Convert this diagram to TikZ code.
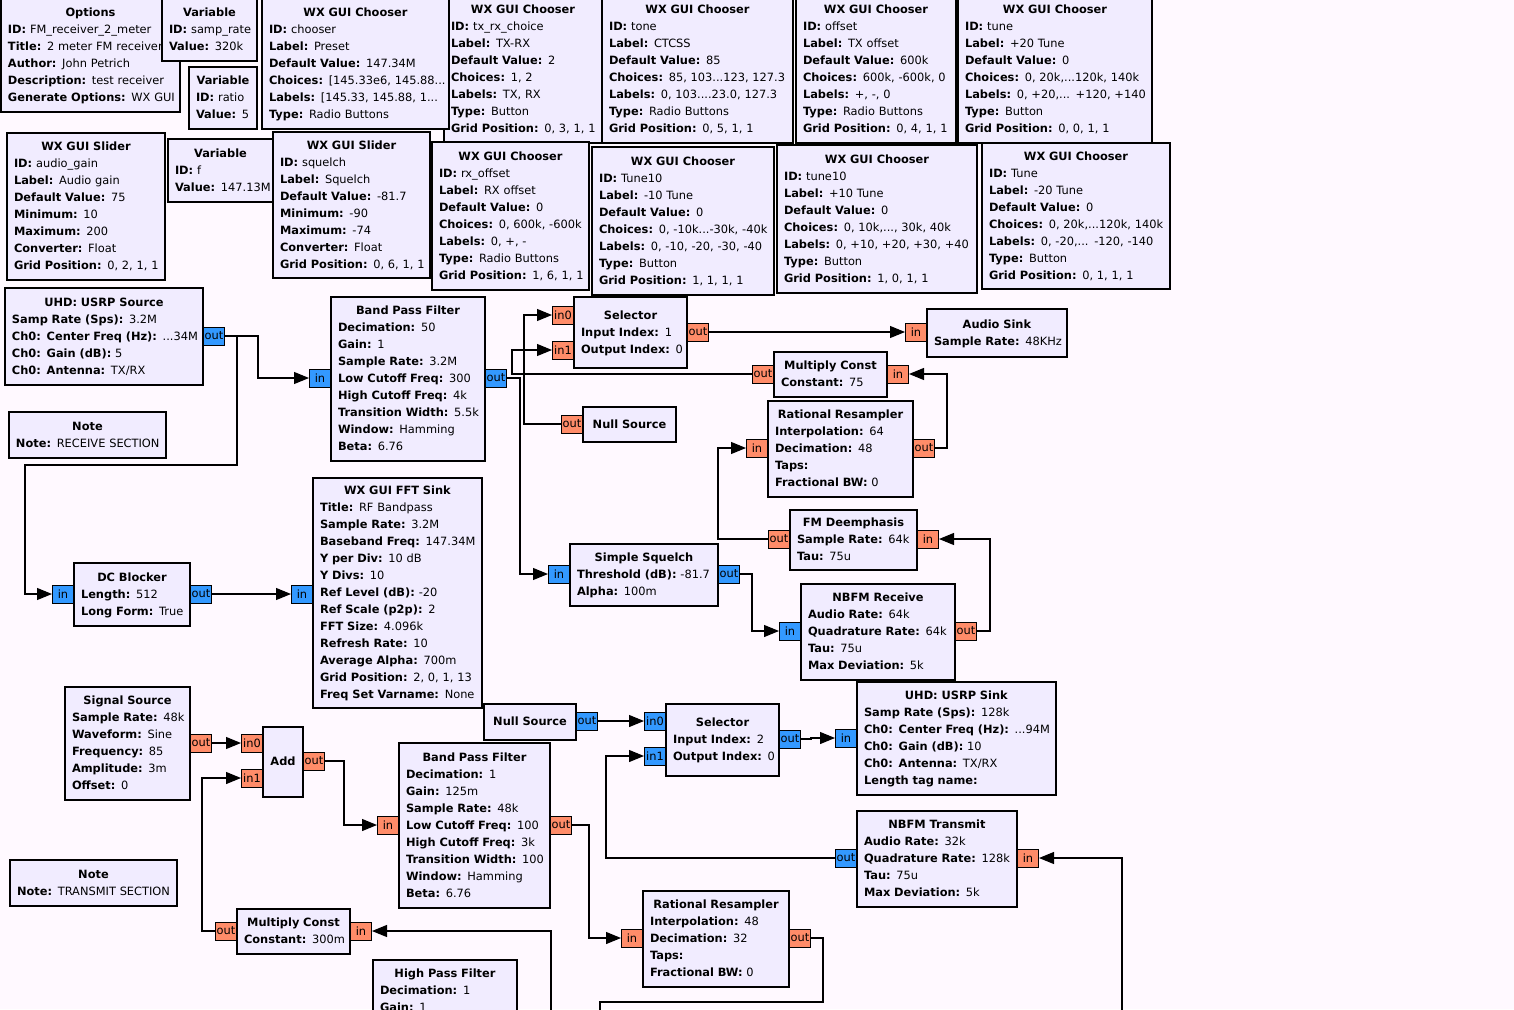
\documentclass[tikz,border=0pt]{standalone}
\usepackage{fontspec}
\setmainfont{DejaVu Sans}
\usetikzlibrary{arrows.meta}

\definecolor{canvas}{HTML}{FFF9FF}
\definecolor{blockfill}{HTML}{F1ECFF}
\definecolor{cplx}{HTML}{3399FF}
\definecolor{flt}{HTML}{FF8C69}

% one text row of a block: fixed 17pt pitch
\newcommand\ls{\rule[-4.9pt]{0pt}{17pt}}
% centred bold block title
\newcommand\ttl[1]{\makebox[\linewidth][c]{\ls\textbf{#1}}}
% "Key: value" parameter row
\newcommand\pl[2]{\\\ls\mbox{\textbf{#1:} #2}}
% block: name, x1, y1, x2, y2, contents
\newcommand\gblock[6]{%
  \pgfmathsetmacro\gbw{#4-(#2)}%
  \pgfmathsetmacro\gbh{#5-(#3)}%
  \pgfmathsetmacro\gbt{#4-(#2)-14}%
  \node[blk, minimum width=\gbw pt, minimum height=\gbh pt, text width=\gbt pt]
    (#1) at ({(#2+#4)/2},{(#3+#5)/2}) {#6};%
}
% port: name, x, y, anchor, colour, label
\newcommand\gport[6]{\node[port, fill=#5, anchor=#4] (#1) at (#2,#3) {#6};}

\begin{document}
\begin{tikzpicture}[x=1pt, y=-1pt,
  blk/.style={draw=black, line width=1.3pt, fill=blockfill, inner xsep=7pt, inner ysep=0pt,
    font=\fontsize{11.4}{17}\selectfont},
  port/.style={draw=black, line width=1pt, minimum width=21pt, minimum height=18pt,
    inner sep=1pt, font=\fontsize{11.4}{13}\selectfont},
  wire/.style={draw=black, line width=1.1pt},
  arr/.style={wire, -{Triangle[length=15pt,width=12pt]}}]

\useasboundingbox (0,0) rectangle (1514,1009);
\fill[canvas] (0,0) rectangle (1514,1009);
\clip (0,0) rectangle (1514,1009);

% ---------------- variables and GUI widgets ----------------
\gblock{opts}{1}{-2}{180}{112}{\ttl{Options}\pl{ID}{FM\_receiver\_2\_meter}\pl{Title}{2 meter FM receiver}\pl{Author}{John Petrich}\pl{Description}{test receiver}\pl{Generate Options}{WX GUI}}
\gblock{vsr}{162}{-2}{257}{61}{\ttl{Variable}\pl{ID}{samp\_rate}\pl{Value}{320k}}
\gblock{vratio}{189}{67}{257}{129}{\ttl{Variable}\pl{ID}{ratio}\pl{Value}{5}}
\gblock{ctxrx}{444}{-4}{602}{143}{\ttl{WX GUI Chooser}\pl{ID}{tx\_rx\_choice}\pl{Label}{TX-RX}\pl{Default Value}{2}\pl{Choices}{1, 2}\pl{Labels}{TX, RX}\pl{Type}{Button}\pl{Grid Position}{0, 3, 1, 1}}
\gblock{cpreset}{262}{-2}{449}{129}{\ttl{WX GUI Chooser}\pl{ID}{chooser}\pl{Label}{Preset}\pl{Default Value}{147.34M}\pl{Choices}{[145.33e6, 145.88...}\pl{Labels}{[145.33, 145.88, 1...}\pl{Type}{Radio Buttons}}
\gblock{ctone}{602}{-4}{793}{143}{\ttl{WX GUI Chooser}\pl{ID}{tone}\pl{Label}{CTCSS}\pl{Default Value}{85}\pl{Choices}{85, 103...123, 127.3}\pl{Labels}{0, 103....23.0, 127.3}\pl{Type}{Radio Buttons}\pl{Grid Position}{0, 5, 1, 1}}
\gblock{coffset}{796}{-4}{956}{143}{\ttl{WX GUI Chooser}\pl{ID}{offset}\pl{Label}{TX offset}\pl{Default Value}{600k}\pl{Choices}{600k, -600k, 0}\pl{Labels}{+, -, 0}\pl{Type}{Radio Buttons}\pl{Grid Position}{0, 4, 1, 1}}
\gblock{ctune}{958}{-4}{1152}{143}{\ttl{WX GUI Chooser}\pl{ID}{tune}\pl{Label}{+20 Tune}\pl{Default Value}{0}\pl{Choices}{0, 20k,...120k, 140k}\pl{Labels}{0, +20,... +120, +140}\pl{Type}{Button}\pl{Grid Position}{0, 0, 1, 1}}

\gblock{sgain}{7}{133}{165}{280}{\ttl{WX GUI Slider}\pl{ID}{audio\_gain}\pl{Label}{Audio gain}\pl{Default Value}{75}\pl{Minimum}{10}\pl{Maximum}{200}\pl{Converter}{Float}\pl{Grid Position}{0, 2, 1, 1}}
\gblock{vf}{168}{139}{273}{202}{\ttl{Variable}\pl{ID}{f}\pl{Value}{147.13M}}
\gblock{ssq}{273}{132}{430}{278}{\ttl{WX GUI Slider}\pl{ID}{squelch}\pl{Label}{Squelch}\pl{Default Value}{-81.7}\pl{Minimum}{-90}\pl{Maximum}{-74}\pl{Converter}{Float}\pl{Grid Position}{0, 6, 1, 1}}
\gblock{crxo}{432}{142}{589}{290}{\ttl{WX GUI Chooser}\pl{ID}{rx\_offset}\pl{Label}{RX offset}\pl{Default Value}{0}\pl{Choices}{0, 600k, -600k}\pl{Labels}{0, +, -}\pl{Type}{Radio Buttons}\pl{Grid Position}{1, 6, 1, 1}}
\gblock{cTten}{592}{147}{774}{295}{\ttl{WX GUI Chooser}\pl{ID}{Tune10}\pl{Label}{-10 Tune}\pl{Default Value}{0}\pl{Choices}{0, -10k...-30k, -40k}\pl{Labels}{0, -10, -20, -30, -40}\pl{Type}{Button}\pl{Grid Position}{1, 1, 1, 1}}
\gblock{ctten}{777}{145}{977}{293}{\ttl{WX GUI Chooser}\pl{ID}{tune10}\pl{Label}{+10 Tune}\pl{Default Value}{0}\pl{Choices}{0, 10k,..., 30k, 40k}\pl{Labels}{0, +10, +20, +30, +40}\pl{Type}{Button}\pl{Grid Position}{1, 0, 1, 1}}
\gblock{cTune}{982}{143}{1170}{289}{\ttl{WX GUI Chooser}\pl{ID}{Tune}\pl{Label}{-20 Tune}\pl{Default Value}{0}\pl{Choices}{0, 20k,...120k, 140k}\pl{Labels}{0, -20,... -120, -140}\pl{Type}{Button}\pl{Grid Position}{0, 1, 1, 1}}

% ---------------- receive chain ----------------
\gblock{usrpsrc}{5}{288}{203}{385}{\ttl{UHD: USRP Source}\pl{Samp Rate (Sps)}{3.2M}\pl{Ch0: Center Freq (Hz)}{...34M}\pl{Ch0: Gain (dB)}{5}\pl{Ch0: Antenna}{TX/RX}}
\gport{usrpsrc-o}{203}{336}{west}{cplx}{out}
\gblock{noterx}{9}{412}{166}{458}{\ttl{Note}\pl{Note}{RECEIVE SECTION}}
\gblock{bpfrx}{331}{297}{485}{461}{\ttl{Band Pass Filter}\pl{Decimation}{50}\pl{Gain}{1}\pl{Sample Rate}{3.2M}\pl{Low Cutoff Freq}{300}\pl{High Cutoff Freq}{4k}\pl{Transition Width}{5.5k}\pl{Window}{Hamming}\pl{Beta}{6.76}}
\gport{bpfrx-i}{331}{378}{east}{cplx}{in}
\gport{bpfrx-o}{485}{378}{west}{cplx}{out}
\gblock{selrx}{574}{297}{687}{368}{\ttl{Selector}\pl{Input Index}{1}\pl{Output Index}{0}}
\gport{selrx-i0}{574}{315}{east}{flt}{in0}
\gport{selrx-i1}{574}{350}{east}{flt}{in1}
\gport{selrx-o}{687}{332}{west}{flt}{out}
\gblock{audio}{927}{309}{1067}{357}{\ttl{Audio Sink}\pl{Sample Rate}{48KHz}}
\gport{audio-i}{927}{332}{east}{flt}{in}
\gblock{mcrx}{774}{352}{887}{397}{\ttl{Multiply Const}\pl{Constant}{75}}
\gport{mcrx-o}{774}{374}{east}{flt}{out}
\gport{mcrx-i}{887}{374}{west}{flt}{in}
\gblock{nullrx}{583}{407}{676}{442}{\ttl{Null Source}}
\gport{nullrx-o}{583}{424}{east}{flt}{out}
\gblock{rrrx}{768}{401}{913}{497}{\ttl{Rational Resampler}\pl{Interpolation}{64}\pl{Decimation}{48}\pl{Taps}{}\pl{Fractional BW}{0}}
\gport{rrrx-i}{768}{448}{east}{flt}{in}
\gport{rrrx-o}{913}{448}{west}{flt}{out}
\gblock{fmde}{790}{510}{917}{570}{\ttl{FM Deemphasis}\pl{Sample Rate}{64k}\pl{Tau}{75u}}
\gport{fmde-o}{790}{539}{east}{flt}{out}
\gport{fmde-i}{917}{539}{west}{flt}{in}
\gblock{sq}{570}{544}{718}{606}{\ttl{Simple Squelch}\pl{Threshold (dB)}{-81.7}\pl{Alpha}{100m}}
\gport{sq-i}{570}{574}{east}{cplx}{in}
\gport{sq-o}{718}{574}{west}{cplx}{out}
\gblock{nbfmrx}{801}{584}{955}{680}{\ttl{NBFM Receive}\pl{Audio Rate}{64k}\pl{Quadrature Rate}{64k}\pl{Tau}{75u}\pl{Max Deviation}{5k}}
\gport{nbfmrx-i}{801}{631}{east}{cplx}{in}
\gport{nbfmrx-o}{955}{631}{west}{flt}{out}
\gblock{fft}{313}{478}{482}{708}{\ttl{WX GUI FFT Sink}\pl{Title}{RF Bandpass}\pl{Sample Rate}{3.2M}\pl{Baseband Freq}{147.34M}\pl{Y per Div}{10 dB}\pl{Y Divs}{10}\pl{Ref Level (dB)}{-20}\pl{Ref Scale (p2p)}{2}\pl{FFT Size}{4.096k}\pl{Refresh Rate}{10}\pl{Average Alpha}{700m}\pl{Grid Position}{2, 0, 1, 13}\pl{Freq Set Varname}{None}}
\gport{fft-i}{313}{594}{east}{cplx}{in}
\gblock{dcb}{74}{563}{190}{626}{\ttl{DC Blocker}\pl{Length}{512}\pl{Long Form}{True}}
\gport{dcb-i}{74}{594}{east}{cplx}{in}
\gport{dcb-o}{190}{594}{west}{cplx}{out}

% ---------------- transmit chain ----------------
\gblock{sigsrc}{65}{687}{190}{800}{\ttl{Signal Source}\pl{Sample Rate}{48k}\pl{Waveform}{Sine}\pl{Frequency}{85}\pl{Amplitude}{3m}\pl{Offset}{0}}
\gport{sigsrc-o}{190}{743}{west}{flt}{out}
\gblock{add}{263}{727}{303}{797}{\ttl{Add}}
\gport{add-i0}{263}{743}{east}{flt}{in0}
\gport{add-i1}{263}{778}{east}{flt}{in1}
\gport{add-o}{303}{761}{west}{flt}{out}
\gblock{mctx}{237}{909}{350}{954}{\ttl{Multiply Const}\pl{Constant}{300m}}
\gport{mctx-o}{237}{931}{east}{flt}{out}
\gport{mctx-i}{350}{931}{west}{flt}{in}
\gblock{notetx}{10}{860}{177}{906}{\ttl{Note}\pl{Note}{TRANSMIT SECTION}}
\gblock{bpftx}{399}{743}{550}{908}{\ttl{Band Pass Filter}\pl{Decimation}{1}\pl{Gain}{125m}\pl{Sample Rate}{48k}\pl{Low Cutoff Freq}{100}\pl{High Cutoff Freq}{3k}\pl{Transition Width}{100}\pl{Window}{Hamming}\pl{Beta}{6.76}}
\gport{bpftx-i}{399}{825}{east}{flt}{in}
\gport{bpftx-o}{550}{825}{west}{flt}{out}
\gblock{hpf}{373}{960}{517}{1021}{\ttl{High Pass Filter}\pl{Decimation}{1}\pl{Gain}{1}}
\gblock{nulltx}{484}{704}{576}{740}{\ttl{Null Source}}
\gport{nulltx-o}{576}{721}{west}{cplx}{out}
\gblock{seltx}{666}{704}{779}{776}{\ttl{Selector}\pl{Input Index}{2}\pl{Output Index}{0}}
\gport{seltx-i0}{666}{721}{east}{cplx}{in0}
\gport{seltx-i1}{666}{756}{east}{cplx}{in1}
\gport{seltx-o}{779}{739}{west}{cplx}{out}
\gblock{usrpsink}{857}{682}{1056}{795}{\ttl{UHD: USRP Sink}\pl{Samp Rate (Sps)}{128k}\pl{Ch0: Center Freq (Hz)}{...94M}\pl{Ch0: Gain (dB)}{10}\pl{Ch0: Antenna}{TX/RX}\pl{Length tag name}{}}
\gport{usrpsink-i}{857}{738}{east}{cplx}{in}
\gblock{nbfmtx}{857}{811}{1017}{907}{\ttl{NBFM Transmit}\pl{Audio Rate}{32k}\pl{Quadrature Rate}{128k}\pl{Tau}{75u}\pl{Max Deviation}{5k}}
\gport{nbfmtx-o}{857}{858}{east}{cplx}{out}
\gport{nbfmtx-i}{1017}{858}{west}{flt}{in}
\gblock{rrtx}{643}{891}{789}{987}{\ttl{Rational Resampler}\pl{Interpolation}{48}\pl{Decimation}{32}\pl{Taps}{}\pl{Fractional BW}{0}}
\gport{rrtx-i}{643}{938}{east}{flt}{in}
\gport{rrtx-o}{789}{938}{west}{flt}{out}

% loose ends of wires leaving the sheet
\coordinate (hpf-feed) at (551,1030);
\coordinate (rr-sink) at (600,1030);
\coordinate (nbfm-feed) at (1122,1030);

% ---------------- connections ----------------
\draw[arr] (usrpsrc-o.east) -- ++(33,0) |- (bpfrx-i.west);
\draw[arr] (usrpsrc-o.east) -| (237,465) -- (25,465) |- (dcb-i.west);
\draw[arr] (dcb-o.east) -- (fft-i.west);
\draw[arr] (bpfrx-o.east) -- ++(13,0) |- (sq-i.west);
\draw[arr] (nullrx-o.west) -- (524,424) |- (selrx-i0.west);
\draw[arr] (mcrx-o.west) -- (512,374) |- (selrx-i1.west);
\draw[arr] (selrx-o.east) -- (audio-i.west);
\draw[arr] (rrrx-o.east) -- ++(12,0) |- (mcrx-i.east);
\draw[arr] (fmde-o.west) -- (718,539) |- (rrrx-i.west);
\draw[arr] (nbfmrx-o.east) -- ++(13,0) |- (fmde-i.east);
\draw[arr] (sq-o.east) -- ++(12,0) |- (nbfmrx-i.west);

\draw[arr] (sigsrc-o.east) -- (add-i0.west);
\draw[arr] (mctx-o.west) -- (202,931) |- (add-i1.west);
\draw[arr] (add-o.east) -- ++(19,0) |- (bpftx-i.west);
\draw[arr] (hpf-feed) |- (mctx-i.east);
\draw[arr] (nulltx-o.east) -- (seltx-i0.west);
\draw[arr] (nbfmtx-o.west) -- (606,858) |- (seltx-i1.west);
\draw[arr] (seltx-o.east) -- ++(10,0) |- (usrpsink-i.west);
\draw[arr] (bpftx-o.east) -- ++(17,0) |- (rrtx-i.west);
\draw[wire] (rrtx-o.east) -- ++(12,0) |- (600,1002) -- (rr-sink);
\draw[arr] (nbfm-feed) |- (nbfmtx-i.east);
\end{tikzpicture}
\end{document}
